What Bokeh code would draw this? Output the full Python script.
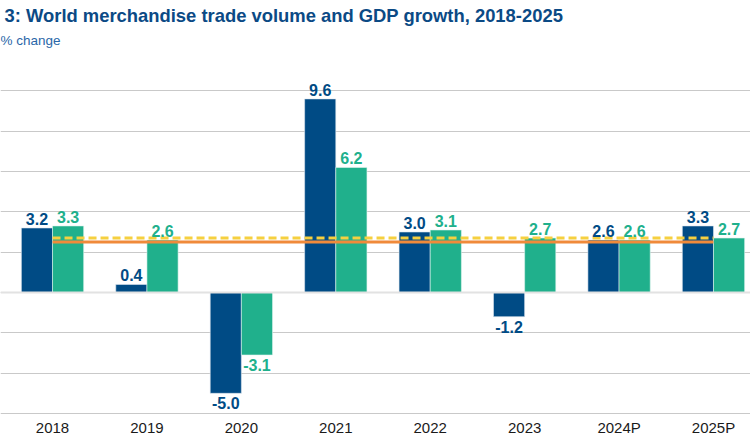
from bokeh.plotting import figure
from bokeh.models import ColumnDataSource, FixedTicker, Grid, Title, Span
from bokeh.transform import dodge
from bokeh.embed import file_html
from bokeh.resources import INLINE
from bokeh.core.properties import value

# ---- data ----
years = ["2018", "2019", "2020", "2021", "2022", "2023", "2024P", "2025P"]
trade_volume = [3.2, 0.4, -5.0, 9.6, 3.0, -1.2, 2.6, 3.3]
gdp_growth = [3.3, 2.6, -3.1, 6.2, 3.1, 2.7, 2.6, 2.7]
avg_solid = 2.5     # orange solid reference line
avg_dashed = 2.7    # yellow dashed reference line
y_ticks = [-6, -4, -2, 0, 2, 4, 6, 8, 10]

title_text = "3: World merchandise trade volume and GDP growth, 2018-2025"
subtitle_text = "% change"

# ---- styles ----
BLUE = "#004b85"
GREEN = "#20b08c"
ORANGE = "#f08a3a"
YELLOW = "#f6d03f"
TITLE_BLUE = "#0b4a85"
FONT = "Liberation Sans"

xs = list(range(len(years)))
src = ColumnDataSource(dict(
    x=xs,
    trade=trade_volume,
    gdp=gdp_growth,
))

def label_sources(vals, shift):
    pos = dict(x=[], y=[], t=[])
    neg = dict(x=[], y=[], t=[])
    for i, v in zip(xs, vals):
        d = pos if v >= 0 else neg
        d["x"].append(i + shift)
        d["y"].append(v)
        d["t"].append(f"{v:.1f}")
    return ColumnDataSource(pos), ColumnDataSource(neg)

BW = 0.33
p = figure(
    width=750, height=438,
    x_range=(-0.551, 7.392), y_range=(-6.05, 12.0),
    output_backend="svg", toolbar_location=None,
    y_axis_location=None,
    min_border_left=0, min_border_right=0, min_border_top=0, min_border_bottom=0,
)
p.outline_line_color = None
p.background_fill_color = "white"
for g in p.grid:
    g.visible = False

p.add_layout(Grid(dimension=1, ticker=FixedTicker(ticks=y_ticks),
                  grid_line_color="#c9c9c9", grid_line_width=1.2))
p.add_layout(Span(location=0, dimension="width", line_color="#e2e2e2", line_width=2))

p.vbar(x=dodge("x", -BW / 2), top="trade", width=BW, source=src,
       fill_color=BLUE, line_color="#dfe8f0", line_width=0.6)
p.vbar(x=dodge("x", BW / 2), top="gdp", width=BW, source=src,
       fill_color=GREEN, line_color="#dff3ee", line_width=0.6)

p.line(x=[xs[0], xs[-1]], y=[avg_solid, avg_solid], line_color=ORANGE, line_width=3)
p.line(x=[xs[0], xs[-1]], y=[avg_dashed, avg_dashed], line_color=YELLOW, line_width=3,
       line_dash="8 4")

for vals, shift, col in ((trade_volume, -BW / 2, BLUE), (gdp_growth, BW / 2, GREEN)):
    ps, ns = label_sources(vals, shift)
    p.text(x="x", y="y", text="t", source=ps, text_align="center",
           text_baseline="alphabetic", y_offset=-9,
           text_font=value(FONT), text_font_style="bold", text_font_size="16px",
           text_color=col)
    p.text(x="x", y="y", text="t", source=ns, text_align="center",
           text_baseline="top", y_offset=4,
           text_font=value(FONT), text_font_style="bold", text_font_size="16px",
           text_color=col)

ax = p.xaxis[0]
ax.ticker = FixedTicker(ticks=xs)
ax.major_label_overrides = {i: y for i, y in zip(xs, years)}
ax.axis_line_color = None
ax.major_tick_line_color = None
ax.minor_tick_line_color = None
ax.major_tick_out = 0
ax.major_tick_in = 0
ax.major_label_standoff = 4
ax.major_label_text_font = FONT
ax.major_label_text_font_size = "15px"
ax.major_label_text_color = "#1a1a1a"

p.add_layout(Title(text=subtitle_text, text_font=FONT, text_font_size="13.5px",
                   text_font_style="normal", text_color="#2a67a8",
                   standoff=6), "above")
p.add_layout(Title(text=title_text, text_font=FONT, text_font_size="18.4px",
                   text_font_style="bold", text_color=TITLE_BLUE,
                   offset=4, standoff=4), "above")

open("out.html", "w").write(file_html(p, INLINE))
